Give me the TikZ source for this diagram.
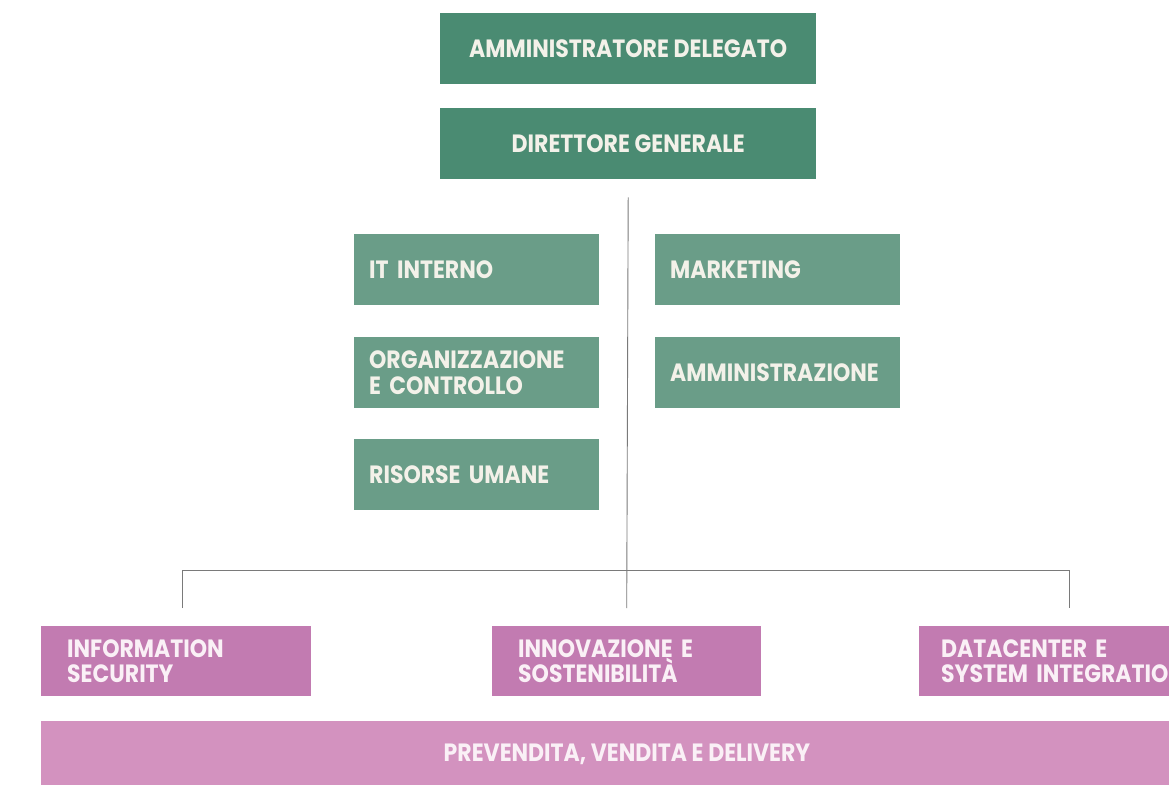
\documentclass[tikz,border=0pt]{standalone}
\usepackage{fontspec}
\setmainfont{Poppins}[FakeStretch=0.88]
\definecolor{gdark}{HTML}{4A8B72}
\definecolor{glight}{HTML}{6A9D88}
\definecolor{pdark}{HTML}{C27BB1}
\definecolor{plight}{HTML}{D392BF}
\definecolor{gtext}{HTML}{F3F1E9}
\definecolor{ptext}{HTML}{FAF0F6}
\definecolor{linec}{HTML}{7A7A7A}
\begin{document}
\begin{tikzpicture}[x=1pt,y=-1pt,
  lbl/.style={font=\bfseries\fontsize{25}{25.5}\selectfont},
  topbox/.style={lbl,fill=gdark,text=gtext,anchor=north west,minimum width=376pt,minimum height=71pt,inner sep=0pt,align=center},
  gbox/.style={lbl,fill=glight,text=gtext,anchor=north west,minimum width=245pt,minimum height=71pt,inner xsep=15pt,inner ysep=0pt,text width=215pt,align=left},
  pbox/.style={lbl,fill=pdark,text=ptext,anchor=north west,minimum height=70pt,inner xsep=26pt,inner ysep=0pt,align=left},
  conn/.style={draw=linec,line width=0.9pt}]
\useasboundingbox (0,0) rectangle (1169,784);
\clip (0,0) rectangle (1169,784);
\fill[white] (0,0) rectangle (1169,784);
\node[topbox] (ad) at (440,13) {AMMINISTRATORE DELEGATO};
\node[topbox] (dg) at (440,108) {DIRETTORE GENERALE};
\node[gbox] (it) at (354,234) {IT INTERNO};
\node[gbox] (org) at (354,337) {ORGANIZZAZIONE\\E CONTROLLO};
\node[gbox] (hr) at (354,439) {RISORSE UMANE};
\node[gbox] (mkt) at (655,234) {MARKETING};
\node[gbox] (amm) at (655,337) {AMMINISTRAZIONE};
\node[pbox,minimum width=270pt,text width=218pt] (sec) at (41,626) {INFORMATION\\SECURITY};
\node[pbox,minimum width=269pt,text width=217pt] (inn) at (492,626) {INNOVAZIONE E\\SOSTENIBILITÀ};
\node[pbox,minimum width=320pt,text width=276pt,inner xsep=22pt] (dc) at (919,626) {DATACENTER E\\SYSTEM INTEGRATION};
\node[lbl,fill=plight,text=ptext,anchor=north west,minimum width=1172pt,minimum height=70pt,inner sep=0pt] (pre) at (41,721) {};
\node[lbl,text=ptext] (pret) at (627,754) {PREVENDITA, VENDITA E DELIVERY};
\coordinate (top) at ([yshift=-18pt]dg.south);
\coordinate (jl) at (182,570);
\coordinate (jr) at (1069,570);
\coordinate (dl) at (182,608);
\coordinate (dr) at (1069,608);
\draw[conn] (top) -- ([yshift=18pt]inn.north);
\draw[conn] (dl) -- (jl) -- (jr) -- (dr);
\end{tikzpicture}
\end{document}
